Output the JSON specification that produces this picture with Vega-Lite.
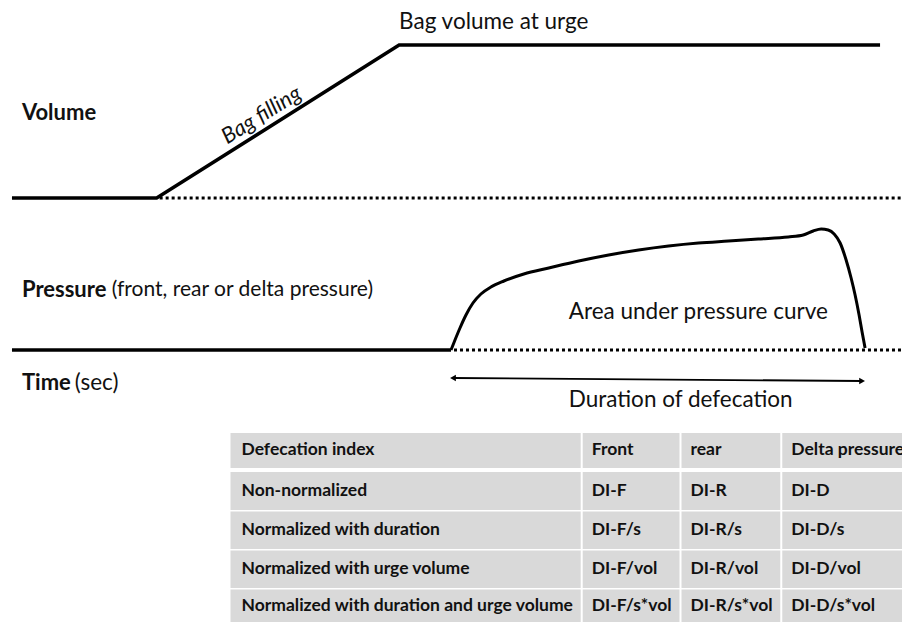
{
  "$schema": "https://vega.github.io/schema/vega-lite/v6.json",
  "width": 904,
  "height": 622,
  "autosize": {"type": "fit", "contains": "padding"},
  "padding": 0,
  "background": "white",
  "config": {"view": {"stroke": null}, "font": "Lato"},
  "datasets": {
    "volume": [
      {"x": 12, "y": 198}, {"x": 157, "y": 198}, {"x": 400, "y": 45}, {"x": 882, "y": 45}
    ],
    "pbase": [
      {"x": 12, "y": 350}, {"x": 452, "y": 350}
    ],
    "curve": [
      {"x": 452, "y": 350}, {"x": 456, "y": 340}, {"x": 461, "y": 328}, {"x": 467, "y": 315},
      {"x": 474, "y": 303}, {"x": 482, "y": 294}, {"x": 492, "y": 287}, {"x": 505, "y": 281},
      {"x": 525, "y": 274}, {"x": 550, "y": 268}, {"x": 580, "y": 261}, {"x": 610, "y": 255},
      {"x": 640, "y": 250}, {"x": 670, "y": 246}, {"x": 700, "y": 243}, {"x": 730, "y": 241},
      {"x": 760, "y": 239}, {"x": 790, "y": 237}, {"x": 805, "y": 235}, {"x": 815, "y": 231},
      {"x": 823, "y": 229}, {"x": 830, "y": 230}, {"x": 836, "y": 234}, {"x": 842, "y": 243},
      {"x": 848, "y": 260}, {"x": 853, "y": 278}, {"x": 857, "y": 295}, {"x": 861, "y": 315},
      {"x": 864, "y": 332}, {"x": 867, "y": 348}
    ],
    "dotted": [
      {"x": 160, "x2": 904, "y": 198, "y2": 198},
      {"x": 455, "x2": 904, "y": 350, "y2": 350}
    ],
    "arrow": [
      {"x": 454, "x2": 864, "y": 378, "y2": 381}
    ],
    "arrowLeft": [{"x": 454, "y": 378}],
    "arrowRight": [{"x": 864, "y": 381}],
    "boldLabels": [
      {"x": 22, "y": 113, "text": "Volume"},
      {"x": 22, "y": 290, "text": "Pressure"},
      {"x": 22, "y": 383, "text": "Time"}
    ],
    "plainLabels": [
      {"x": 400, "y": 22, "text": "Bag volume at urge"},
      {"x": 75, "y": 383, "text": "(sec)"},
      {"x": 570, "y": 312, "text": "Area under pressure curve"},
      {"x": 570, "y": 400, "text": "Duration of defecation"}
    ],
    "subLabels": [
      {"x": 112, "y": 290, "text": "(front, rear or delta pressure)"}
    ],
    "italicLabels": [
      {"x": 262, "y": 115, "text": "Bag filling"}
    ],
    "cells": [
      {"x": 231, "x2": 582, "y": 433, "y2": 468}, {"x": 584, "x2": 681, "y": 433, "y2": 468}, {"x": 683, "x2": 782, "y": 433, "y2": 468}, {"x": 784, "x2": 904, "y": 433, "y2": 468},
      {"x": 231, "x2": 582, "y": 472, "y2": 510}, {"x": 584, "x2": 681, "y": 472, "y2": 510}, {"x": 683, "x2": 782, "y": 472, "y2": 510}, {"x": 784, "x2": 904, "y": 472, "y2": 510},
      {"x": 231, "x2": 582, "y": 511.5, "y2": 549}, {"x": 584, "x2": 681, "y": 511.5, "y2": 549}, {"x": 683, "x2": 782, "y": 511.5, "y2": 549}, {"x": 784, "x2": 904, "y": 511.5, "y2": 549},
      {"x": 231, "x2": 582, "y": 550.5, "y2": 588}, {"x": 584, "x2": 681, "y": 550.5, "y2": 588}, {"x": 683, "x2": 782, "y": 550.5, "y2": 588}, {"x": 784, "x2": 904, "y": 550.5, "y2": 588},
      {"x": 231, "x2": 582, "y": 589.5, "y2": 622}, {"x": 584, "x2": 681, "y": 589.5, "y2": 622}, {"x": 683, "x2": 782, "y": 589.5, "y2": 622}, {"x": 784, "x2": 904, "y": 589.5, "y2": 622}
    ],
    "cellText": [
      {"x": 242, "y": 450, "text": "Defecation index"}, {"x": 593, "y": 450, "text": "Front"}, {"x": 692, "y": 450, "text": "rear"}, {"x": 793, "y": 450, "text": "Delta pressure"},
      {"x": 242, "y": 491, "text": "Non-normalized"}, {"x": 593, "y": 491, "text": "DI-F"}, {"x": 692, "y": 491, "text": "DI-R"}, {"x": 793, "y": 491, "text": "DI-D"},
      {"x": 242, "y": 530, "text": "Normalized with duration"}, {"x": 593, "y": 530, "text": "DI-F/s"}, {"x": 692, "y": 530, "text": "DI-R/s"}, {"x": 793, "y": 530, "text": "DI-D/s"},
      {"x": 242, "y": 569, "text": "Normalized with urge volume"}, {"x": 593, "y": 569, "text": "DI-F/vol"}, {"x": 692, "y": 569, "text": "DI-R/vol"}, {"x": 793, "y": 569, "text": "DI-D/vol"},
      {"x": 242, "y": 606, "text": "Normalized with duration and urge volume"}, {"x": 593, "y": 606, "text": "DI-F/s*vol"}, {"x": 692, "y": 606, "text": "DI-R/s*vol"}, {"x": 793, "y": 606, "text": "DI-D/s*vol"}
    ]
  },
  "encoding": {
    "x": {"field": "x", "type": "quantitative", "scale": {"domain": [0, 904], "nice": false, "zero": false}, "axis": null},
    "y": {"field": "y", "type": "quantitative", "scale": {"domain": [0, 622], "nice": false, "zero": false, "reverse": true}, "axis": null}
  },
  "layer": [
    {
      "data": {"name": "cells"},
      "mark": {"type": "rect", "fill": "#d9d9d9", "clip": true},
      "encoding": {"x2": {"field": "x2"}, "y2": {"field": "y2"}}
    },
    {
      "data": {"name": "cellText"},
      "mark": {"type": "text", "align": "left", "baseline": "middle", "fontSize": 17.5, "fontWeight": "bold", "color": "#111", "clip": true},
      "encoding": {"text": {"field": "text"}}
    },
    {
      "data": {"name": "dotted"},
      "mark": {"type": "rule", "color": "#000", "strokeWidth": 3, "strokeDash": [3, 3]},
      "encoding": {"x2": {"field": "x2"}, "y2": {"field": "y2"}}
    },
    {
      "data": {"name": "volume"},
      "mark": {"type": "line", "color": "#000", "strokeWidth": 3.5, "strokeJoin": "miter"},
      "encoding": {"order": {"field": "x"}}
    },
    {
      "data": {"name": "pbase"},
      "mark": {"type": "line", "color": "#000", "strokeWidth": 3.5},
      "encoding": {}
    },
    {
      "data": {"name": "curve"},
      "mark": {"type": "line", "color": "#000", "strokeWidth": 3, "interpolate": "monotone"},
      "encoding": {}
    },
    {
      "data": {"name": "arrow"},
      "mark": {"type": "rule", "color": "#000", "strokeWidth": 1.8},
      "encoding": {"x2": {"field": "x2"}, "y2": {"field": "y2"}}
    },
    {
      "data": {"name": "arrowLeft"},
      "mark": {"type": "point", "shape": "triangle-left", "filled": true, "color": "#000", "size": 45, "opacity": 1},
      "encoding": {}
    },
    {
      "data": {"name": "arrowRight"},
      "mark": {"type": "point", "shape": "triangle-right", "filled": true, "color": "#000", "size": 45, "opacity": 1},
      "encoding": {}
    },
    {
      "data": {"name": "boldLabels"},
      "mark": {"type": "text", "align": "left", "baseline": "middle", "fontSize": 22, "fontWeight": "bold", "color": "#111"},
      "encoding": {"text": {"field": "text"}}
    },
    {
      "data": {"name": "plainLabels"},
      "mark": {"type": "text", "align": "left", "baseline": "middle", "fontSize": 22.5, "color": "#111"},
      "encoding": {"text": {"field": "text"}}
    },
    {
      "data": {"name": "subLabels"},
      "mark": {"type": "text", "align": "left", "baseline": "middle", "fontSize": 21, "color": "#111"},
      "encoding": {"text": {"field": "text"}}
    },
    {
      "data": {"name": "italicLabels"},
      "mark": {"type": "text", "align": "center", "baseline": "middle", "fontSize": 22, "fontStyle": "italic", "angle": -32, "color": "#111"},
      "encoding": {"text": {"field": "text"}}
    }
  ]
}
